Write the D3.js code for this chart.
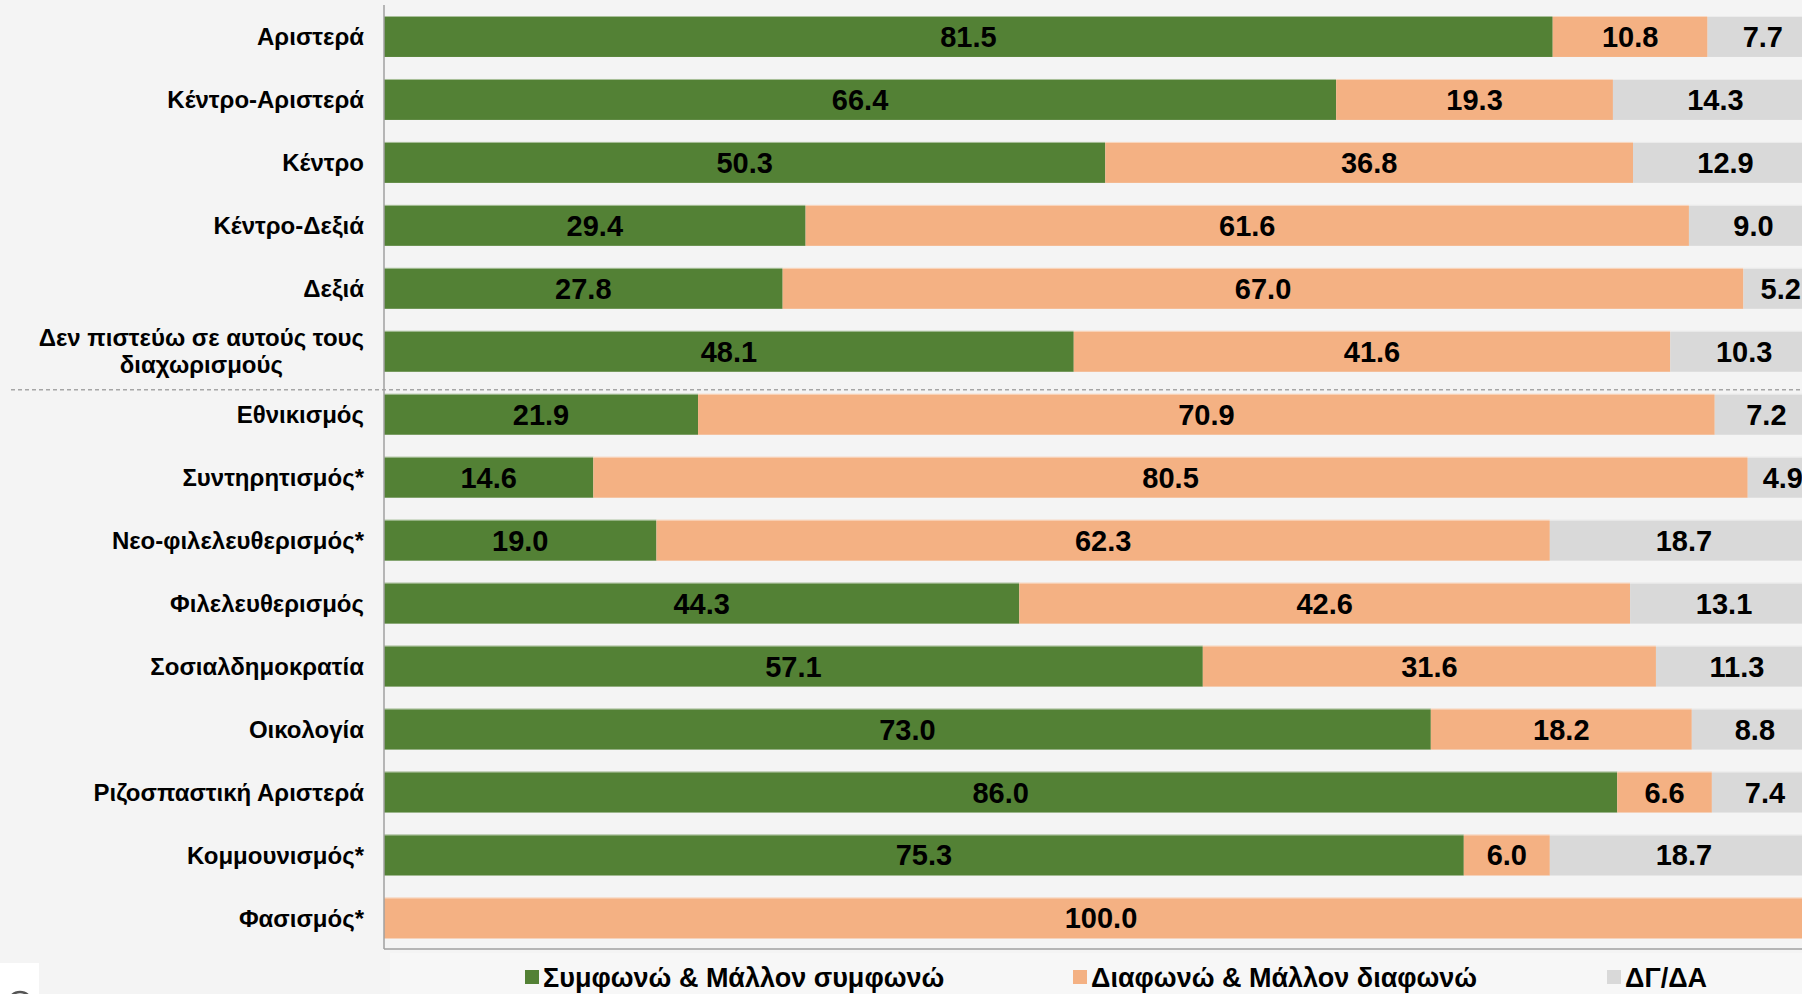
<!DOCTYPE html>
<html>
<head>
<meta charset="utf-8">
<script src="https://cdn.jsdelivr.net/npm/d3@7"></script>
<style>
    html, body { margin: 0; padding: 0; background: #f4f4f4; overflow: hidden; }
    svg { display: block; font-family: "Liberation Sans", Arial, sans-serif; }
</style>
</head>
<body>
<div id="chart"></div>
<script>
const categories = [
    "Αριστερά",
    "Κέντρο-Αριστερά",
    "Κέντρο",
    "Κέντρο-Δεξιά",
    "Δεξιά",
    "Δεν πιστεύω σε αυτούς τους|διαχωρισμούς",
    "Εθνικισμός",
    "Συντηρητισμός*",
    "Νεο-φιλελευθερισμός*",
    "Φιλελευθερισμός",
    "Σοσιαλδημοκρατία",
    "Οικολογία",
    "Ριζοσπαστική Αριστερά",
    "Κομμουνισμός*",
    "Φασισμός*",
];
const agree = [81.5, 66.4, 50.3, 29.4, 27.8, 48.1, 21.9, 14.6, 19.0, 44.3, 57.1, 73.0, 86.0, 75.3, 0];
const disagree = [10.8, 19.3, 36.8, 61.6, 67.0, 41.6, 70.9, 80.5, 62.3, 42.6, 31.6, 18.2, 6.6, 6.0, 100.0];
const dkna = [7.7, 14.3, 12.9, 9.0, 5.2, 10.3, 7.2, 4.9, 18.7, 13.1, 11.3, 8.8, 7.4, 18.7, 0];
const seriesNames = ["Συμφωνώ & Μάλλον συμφωνώ", "Διαφωνώ & Μάλλον διαφωνώ", "ΔΓ/ΔΑ"];
const seriesColors = ["#538135", "#f4b183", "#d9d9d9"];
const separatorBefore = "Εθνικισμός";

const width = 1802;
const height = 994;
const x0 = 384;

const svg = d3.select("#chart").append("svg").attr("width", width).attr("height", height);

svg.append("rect").attr("width", width).attr("height", height).attr("fill", "#f4f4f4");
// lighter legend strip + logo box
svg.append("rect").attr("x", 390).attr("y", 953).attr("width", width - 390).attr("height", height - 953).attr("fill", "#f7f7f7");
svg.append("rect").attr("x", 0).attr("y", 963).attr("width", 39).attr("height", height - 963).attr("fill", "#ffffff");
svg.append("circle").attr("cx", 20).attr("cy", 1004).attr("r", 12)
    .attr("fill", "none").attr("stroke", "#555").attr("stroke-width", 2.5);

const x = d3.scaleLinear().domain([0, 100]).range([x0, 1818]);
const y = d3.scaleBand().domain(categories).range([5, 949.5]).paddingInner(0.35).paddingOuter(0.175);

const rows = categories.map((c, i) => ({ cat: c, vals: [agree[i], disagree[i], dkna[i]] }));
const segs = [];
rows.forEach(r => {
    let acc = 0;
    r.vals.forEach((v, k) => {
        segs.push({ cat: r.cat, k, start: acc, v });
        acc += v;
    });
});

const plot = svg.append("g");

plot.selectAll("rect.seg")
    .data(segs.filter(s => s.v > 0))
    .join("rect")
    .attr("class", "seg")
    .attr("x", d => x(d.start))
    .attr("y", d => y(d.cat))
    .attr("width", d => x(d.start + d.v) - x(d.start))
    .attr("height", y.bandwidth())
    .attr("fill", d => seriesColors[d.k]);

// thin light edge on the top of each bar
plot.selectAll("line.edge")
    .data(categories)
    .join("line")
    .attr("class", "edge")
    .attr("x1", x0)
    .attr("x2", width)
    .attr("y1", d => y(d) + 0.5)
    .attr("y2", d => y(d) + 0.5)
    .attr("stroke", "#ffffff")
    .attr("stroke-opacity", 0.5);

plot.selectAll("text.val")
    .data(segs.filter(s => s.v > 0))
    .join("text")
    .attr("class", "val")
    .attr("x", d => x(d.start + d.v / 2))
    .attr("y", d => y(d.cat) + y.bandwidth() / 2)
    .attr("dy", "0.36em")
    .attr("text-anchor", "middle")
    .attr("font-size", 29)
    .attr("font-weight", "bold")
    .attr("fill", "#000")
    .text(d => d.v.toFixed(1));

// category labels
const labelRight = 364;
categories.forEach(c => {
    const lines = c.split("|");
    const cy = y(c) + y.bandwidth() / 2;
    const g = svg.append("g");
    if (lines.length === 1) {
        g.append("text")
            .attr("x", labelRight)
            .attr("y", cy)
            .attr("dy", "0.36em")
            .attr("text-anchor", "end")
            .attr("font-size", 24)
            .attr("font-weight", "bold")
            .text(c);
    } else {
        const t1 = g.append("text")
            .attr("font-size", 24)
            .attr("font-weight", "bold")
            .attr("text-anchor", "middle")
            .attr("y", cy - 13.5)
            .attr("dy", "0.36em")
            .text(lines[0]);
        const w1 = t1.node().getComputedTextLength();
        const mid = labelRight - w1 / 2;
        t1.attr("x", mid);
        g.append("text")
            .attr("font-size", 24)
            .attr("font-weight", "bold")
            .attr("text-anchor", "middle")
            .attr("x", mid)
            .attr("y", cy + 13.5)
            .attr("dy", "0.36em")
            .text(lines[1]);
    }
});

// separator between the two groups
svg.append("line")
    .attr("x1", 11)
    .attr("x2", width)
    .attr("y1", y(separatorBefore) - 4)
    .attr("y2", y(separatorBefore) - 4)
    .attr("stroke", "#a6a6a6")
    .attr("stroke-width", 1.5)
    .attr("stroke-dasharray", "4,3");

// axis lines
svg.append("line")
    .attr("x1", x0).attr("x2", x0)
    .attr("y1", 5).attr("y2", 949)
    .attr("stroke", "#a0a0a0").attr("stroke-width", 1.5);
svg.append("line")
    .attr("x1", x0).attr("x2", width)
    .attr("y1", 949).attr("y2", 949)
    .attr("stroke", "#a0a0a0").attr("stroke-width", 1.5);

// legend
const legendX = [525, 1073, 1607];
const legend = svg.append("g");
seriesNames.forEach((name, i) => {
    legend.append("rect")
        .attr("x", legendX[i])
        .attr("y", 970)
        .attr("width", 14)
        .attr("height", 14)
        .attr("fill", seriesColors[i]);
    legend.append("text")
        .attr("x", legendX[i] + 18)
        .attr("y", 977)
        .attr("dy", "0.36em")
        .attr("font-size", 27)
        .attr("font-weight", "bold")
        .text(name);
});
</script>
</body>
</html>
